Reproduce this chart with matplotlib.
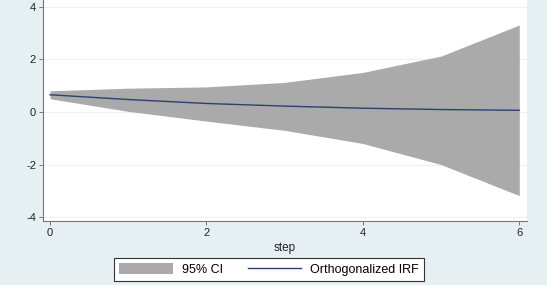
import numpy as np
import matplotlib.pyplot as plt

# impulse response values
step = [0, 1, 2, 3, 4, 5, 6]
irf = [0.65, 0.47, 0.32, 0.22, 0.14, 0.09, 0.06]
ci_upper = [0.80, 0.90, 0.95, 1.12, 1.50, 2.12, 3.30]
ci_lower = [0.50, 0.02, -0.35, -0.70, -1.20, -2.00, -3.18]

yticks = [-4, -2, 0, 2, 4]
xticks = [0, 2, 4, 6]

plt.rcParams['axes.unicode_minus'] = False
plt.rcParams['font.family'] = ['Liberation Sans', 'DejaVu Sans']

bg = '#e6eff2'
fig = plt.figure(figsize=(5.47, 2.85), dpi=100, facecolor=bg)
ax = fig.add_axes([0.0786, 0.224, 0.885, 0.776])
ax.set_facecolor('white')

ax.fill_between(step, ci_lower, ci_upper, color='#aaaaaa', linewidth=0, label='95% CI')
ax.plot(step, irf, color='#2a4270', linewidth=1.0, label='Orthogonalized IRF')

ax.set_xlim(-0.09, 6.1)
ax.set_ylim(-4.15, 4.25)
ax.set_xticks(xticks)
ax.set_yticks(yticks)
ax.yaxis.grid(True, color='#eaf2f4', linewidth=0.8)
ax.set_axisbelow(True)

for s in ['top', 'right']:
    ax.spines[s].set_visible(False)
for s in ['left', 'bottom']:
    ax.spines[s].set_color('#777777')
    ax.spines[s].set_linewidth(0.8)
ax.tick_params(direction='out', length=3, width=0.7, color='#777777',
               labelsize=8, labelcolor='#222222', pad=2)

ax.set_xlabel('step', fontsize=8.5, labelpad=3, color='#222222')

leg = ax.legend(loc='upper center', bbox_to_anchor=(0.467, -0.14), ncol=2,
                fontsize=9, frameon=True, fancybox=False, edgecolor='#333333',
                facecolor='white', framealpha=1,
                handlelength=4.3, handleheight=0.9, handletextpad=0.7,
                columnspacing=2.0, borderpad=0.4)
leg.get_frame().set_linewidth(0.8)

fig.savefig('out.png', dpi=100, facecolor=bg)
